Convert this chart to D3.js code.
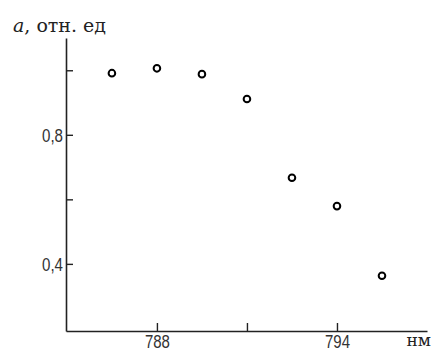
<!DOCTYPE html>
<html><head><meta charset="utf-8">
<script src="https://cdn.jsdelivr.net/npm/d3@7"></script>
<style>
html,body{margin:0;padding:0;background:#fff;}
svg{display:block;}
.tick text{font-family:"Liberation Sans",Arial,sans-serif;font-size:18px;fill:#333;}
</style></head>
<body>
<svg id="c" width="435" height="351"></svg>
<script>
const wavelength = [786.5, 788.0, 789.5, 791.0, 792.5, 794.0, 795.5];
const absorption = [0.991, 1.006, 0.988, 0.911, 0.667, 0.579, 0.363];
const xTicks = [788, 791, 794];
const xTickLabels = ["788", "", "794"];
const yTicks = [0.4, 0.6, 0.8, 1.0];
const yTickLabels = ["0,4", "", "0,8", ""];

const svg = d3.select("#c");
const x = d3.scaleLinear().domain([784.97, 797]).range([66, 427]);
const y = d3.scaleLinear().domain([0.192, 1.1]).range([331, 38]);

const ax = svg.append("g").attr("transform","translate(0,331)")
  .call(d3.axisBottom(x).tickValues(xTicks).tickSizeInner(-8).tickSizeOuter(0).tickPadding(6)
    .tickFormat((d,i)=>xTickLabels[i]));
const ay = svg.append("g").attr("transform","translate(66,0)")
  .call(d3.axisLeft(y).tickValues(yTicks).tickSizeInner(-7).tickSizeOuter(0).tickPadding(3)
    .tickFormat((d,i)=>yTickLabels[i]));
[ax, ay].forEach(g=>{
  g.selectAll("path.domain").attr("stroke","#222").attr("stroke-width",1.6);
  g.selectAll(".tick line").attr("stroke","#222").attr("stroke-width",1.4);
});
// narrow digit glyphs like the reference
ax.selectAll(".tick text").filter(function(){return this.textContent;})
  .attr("textLength",25).attr("lengthAdjust","spacingAndGlyphs");
ay.selectAll(".tick text").filter(function(){return this.textContent;})
  .attr("textLength",21).attr("lengthAdjust","spacingAndGlyphs").attr("dy","0.36em");
// keep bottom labels inside the frame
ax.selectAll(".tick text").attr("dy","0.62em");

svg.append("g").selectAll("circle").data(wavelength).join("circle")
  .attr("cx",(d)=>x(d)).attr("cy",(d,i)=>y(absorption[i])).attr("r",3.3)
  .attr("fill","#fff").attr("stroke","#000").attr("stroke-width",2);

svg.append("text").attr("x",13).attr("y",32)
  .attr("font-family","DejaVu Serif").attr("font-size",19).attr("fill","#222")
  .html('<tspan font-style="italic">a</tspan>, отн. ед');
svg.append("text").attr("x",431).attr("y",346).attr("text-anchor","end")
  .attr("font-family","DejaVu Serif").attr("font-size",17).attr("fill","#222")
  .text("нм");
</script>
</body></html>
